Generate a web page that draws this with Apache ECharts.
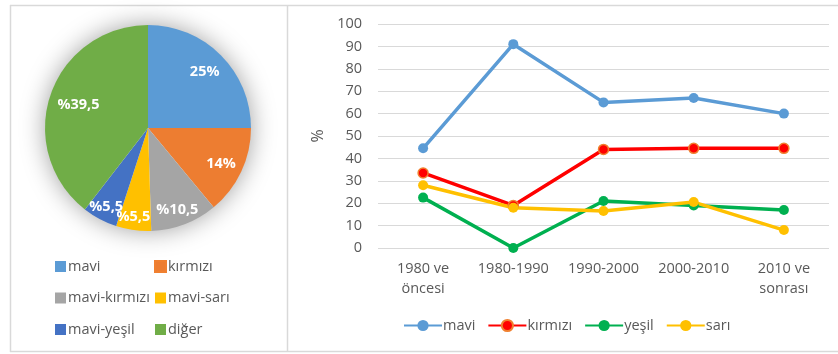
<!DOCTYPE html>
<html>
<head>
<meta charset="utf-8">
<script src="https://cdn.jsdelivr.net/npm/echarts@6/dist/echarts.min.js"></script>
<style>
  html, body { margin: 0; padding: 0; background: #ffffff; }
  #chart { width: 838px; height: 354px; }
</style>
</head>
<body>
<div id="chart"></div>
<script>
// Pie: colour share of the whole sample
const pieNames  = ['mavi', 'kırmızı', 'mavi-kırmızı', 'mavi-sarı', 'mavi-yeşil', 'diğer'];
const pieValues = [25, 14, 10.5, 5.5, 5.5, 39.5];
const pieLabels = ['25%', '14%', '%10,5', '%5,5', '%5,5', '%39,5'];
const pieColors = ['#5B9BD5', '#ED7D31', '#A5A5A5', '#FFC000', '#4472C4', '#70AD47'];
// small nudges for the slice labels
const pieLabelShift = [[-2, 3], [-2, 1], [0, 4], [-3, 7], [-3, 6], [9, 4]];

// Line chart: share per period
const periods = ['1980 ve\nöncesi', '1980-1990', '1990-2000', '2000-2010', '2010 ve\nsonrası'];
const mavi    = [44.5, 91, 65, 67, 60];
const kirmizi = [33.5, 19, 44, 44.5, 44.5];
const yesil   = [22.5, 0, 21, 19, 17];
const sari    = [28, 18, 16.5, 20.5, 8];
const yTicks  = { min: 0, max: 100, interval: 10 };

const FONT = '"Open Sans", "Noto Sans", sans-serif';
const TXT = '#595959';
const FRAME = '#d9d9d9';

const PIE_C = [148, 128];
const PIE_R = 103;

const chart = echarts.init(document.getElementById('chart'), null, { renderer: 'canvas' });

function lineSeries(name, data, color, border) {
  return {
    type: 'line', name, data,
    xAxisIndex: 0, yAxisIndex: 0,
    symbol: 'circle', symbolSize: 10,
    lineStyle: { width: 3.5, color },
    itemStyle: { color, borderColor: border || color, borderWidth: border ? 1.5 : 0 },
    emphasis: { disabled: true },
    z: 3
  };
}

const legendText = { color: TXT, fontSize: 14.5, fontFamily: FONT, padding: [0, 0, 0, -3] };

const option = {
  animation: false,
  textStyle: { fontFamily: FONT },
  graphic: [
    // panel frame
    { type: 'line', shape: { x1: 10, y1: 5.5, x2: 838, y2: 5.5 }, style: { stroke: FRAME, lineWidth: 1.5 }, silent: true },
    { type: 'line', shape: { x1: 10, y1: 351.5, x2: 838, y2: 351.5 }, style: { stroke: FRAME, lineWidth: 1.5 }, silent: true },
    { type: 'line', shape: { x1: 10.5, y1: 5, x2: 10.5, y2: 352 }, style: { stroke: FRAME, lineWidth: 1.5 }, silent: true },
    { type: 'line', shape: { x1: 287.5, y1: 5, x2: 287.5, y2: 352 }, style: { stroke: FRAME, lineWidth: 1.5 }, silent: true }
  ],
  legend: [
    {
      data: [pieNames[0], pieNames[2], pieNames[4]].map(n => ({ name: n, itemStyle: { color: pieColors[pieNames.indexOf(n)] } })),
      orient: 'vertical', left: 55, top: 259, itemGap: 16.5, padding: 0,
      itemWidth: 11, itemHeight: 11, icon: 'rect',
      textStyle: legendText, selectedMode: false
    },
    {
      data: [pieNames[1], pieNames[3], pieNames[5]].map(n => ({ name: n, itemStyle: { color: pieColors[pieNames.indexOf(n)] } })),
      orient: 'vertical', left: 154, top: 259, itemGap: 16.5, padding: 0,
      itemWidth: 11, itemHeight: 11, icon: 'rect',
      textStyle: legendText, selectedMode: false
    },
    {
      data: ['mavi', 'kırmızı', 'yeşil', 'sarı'].map(n => ({ name: n })),
      orient: 'horizontal', left: 403, top: 318, itemGap: 12, padding: 0,
      itemWidth: 38, itemHeight: 14,
      textStyle: { color: TXT, fontSize: 14.5, fontFamily: FONT, padding: [0, 0, 0, -4] },
      selectedMode: false
    }
  ],
  grid: { left: 378, right: 9, top: 24, bottom: 106, containLabel: false },
  xAxis: {
    type: 'category', data: periods, boundaryGap: true,
    axisLine: { show: false }, axisTick: { show: false },
    axisLabel: { interval: 0, color: TXT, fontSize: 14.5, fontFamily: FONT, margin: 11, lineHeight: 20 }
  },
  yAxis: {
    type: 'value', min: yTicks.min, max: yTicks.max, interval: yTicks.interval,
    name: '%', nameLocation: 'middle', nameGap: 50, nameRotate: 90,
    nameTextStyle: { color: TXT, fontSize: 16, fontFamily: FONT },
    axisLine: { show: false }, axisTick: { show: false },
    axisLabel: { color: TXT, fontSize: 14.5, fontFamily: FONT, margin: 16 },
    splitLine: { lineStyle: { color: FRAME, width: 1.2 } }
  },
  series: [
    {
      // soft halo disc behind the pie
      type: 'pie', name: 'gölge',
      center: PIE_C, radius: PIE_R - 1,
      data: [{ name: 'gölge', value: 1 }],
      itemStyle: { color: '#ffffff', shadowBlur: 26, shadowColor: 'rgba(0,0,0,0.4)' },
      label: { show: false }, labelLine: { show: false },
      emphasis: { disabled: true }, silent: true, z: 1
    },
    {
      type: 'pie', name: 'renk',
      center: PIE_C, radius: PIE_R, startAngle: 90, clockwise: true,
      data: pieNames.map((n, i) => ({ name: n, value: pieValues[i], itemStyle: { color: pieColors[i] } })),
      label: { show: false }, labelLine: { show: false },
      emphasis: { disabled: true }, silent: true, z: 2
    },
    {
      // transparent ring carrying the slice labels at ~0.78 of the radius
      type: 'pie', name: 'etiket',
      center: PIE_C, radius: [57, PIE_R], startAngle: 90, clockwise: true,
      avoidLabelOverlap: false,
      labelLayout: { hideOverlap: false },
      data: pieNames.map((n, i) => ({
        name: 'etiket-' + i, value: pieValues[i],
        itemStyle: { color: 'rgba(0,0,0,0)' },
        label: { offset: pieLabelShift[i] }
      })),
      label: {
        show: true, position: 'inside',
        formatter: p => pieLabels[p.dataIndex],
        color: '#ffffff', fontSize: 14.5, fontWeight: 'bold', fontFamily: FONT
      },
      labelLine: { show: false },
      emphasis: { disabled: true }, silent: true, z: 3
    },
    lineSeries('mavi', mavi, '#5B9BD5'),
    lineSeries('kırmızı', kirmizi, '#FF0000', '#F08030'),
    lineSeries('yeşil', yesil, '#00B050'),
    lineSeries('sarı', sari, '#FFC000')
  ]
};

chart.setOption(option);
</script>
</body>
</html>
